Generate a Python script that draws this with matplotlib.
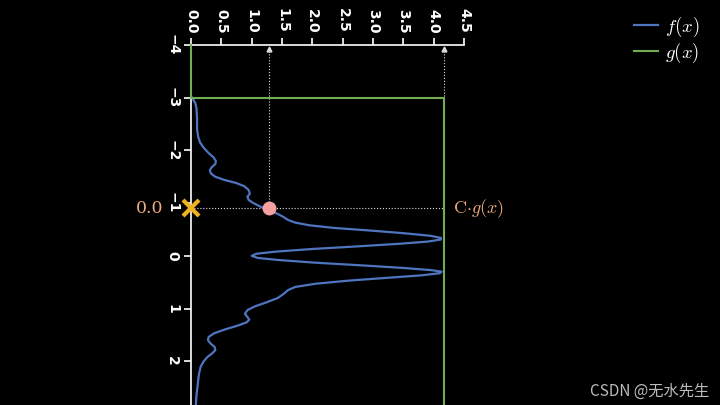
import matplotlib
matplotlib.use('Agg')
import matplotlib.pyplot as plt

# f(x): sample positions and density values
f_x = [-3.0, -2.9, -2.8, -2.6, -2.4, -2.25, -2.15, -2.05, -1.95, -1.87, -1.80,
       -1.74, -1.68, -1.62, -1.56, -1.50, -1.44, -1.38, -1.32, -1.25, -1.18,
       -1.12, -1.06, -1.00, -0.93, -0.87, -0.80, -0.74, -0.68, -0.63, -0.58,
       -0.53, -0.48, -0.43, -0.38, -0.34, -0.31, -0.27, -0.23, -0.18, -0.13,
       -0.08, -0.04, 0.0, 0.04, 0.08, 0.13, 0.18, 0.23, 0.27, 0.30, 0.33, 0.37,
       0.42, 0.47, 0.53, 0.59, 0.65, 0.72, 0.80, 0.88, 0.96, 1.03, 1.10, 1.16,
       1.21, 1.26, 1.32, 1.40, 1.47, 1.54, 1.60, 1.66, 1.73, 1.79, 1.85, 1.92,
       2.00, 2.10, 2.25, 2.45, 2.65, 2.83]
f_y = [0.02, 0.07, 0.09, 0.10, 0.10, 0.12, 0.15, 0.21, 0.29, 0.37, 0.41,
       0.40, 0.34, 0.31, 0.33, 0.40, 0.55, 0.75, 0.88, 0.95, 0.97,
       0.93, 0.95, 1.03, 1.15, 1.28, 1.42, 1.52, 1.60, 1.72, 1.95,
       2.35, 2.95, 3.50, 3.95, 4.12, 4.12, 3.90, 3.45, 2.75, 2.00,
       1.40, 1.08, 1.00, 1.10, 1.45, 2.05, 2.80, 3.50, 3.95, 4.13, 4.10, 3.80,
       3.20, 2.60, 2.05, 1.72, 1.60, 1.53, 1.43, 1.25, 1.05, 0.93, 0.89, 0.93,
       0.96, 0.92, 0.78, 0.55, 0.38, 0.29, 0.28, 0.32, 0.39, 0.40, 0.35, 0.27,
       0.21, 0.16, 0.13, 0.11, 0.09, 0.08]

# g(x): uniform proposal scaled by C
g_x = [-4.0, -3.0, -3.0, 2.83]
g_y = [0.0, 0.0, 4.17, 4.17]

sample_x = -0.9      # proposed sample
sample_u = 1.28      # f at the sample
cg_value = 4.17      # C*g at the sample

x_ticks = [-4, -3, -2, -1, 0, 1, 2]
d_ticks = [0.0, 0.5, 1.0, 1.5, 2.0, 2.5, 3.0, 3.5, 4.0, 4.5]

plt.rcParams['mathtext.fontset'] = 'cm'

fig = plt.figure(figsize=(7.2, 4.05), dpi=100, facecolor='black')
ax = fig.add_axes([191 / 720, 0.0, 273 / 720, 1 - 45 / 405])
ax.set_facecolor('black')

orange = '#eeaa7b'
blue = '#4f74c0'
green = '#72ad52'

ax.plot(f_y, f_x, color=blue, lw=1.6, label='$f(x)$', zorder=3)
ax.plot(g_y, g_x, color=green, lw=1.5, label='$g(x)$', zorder=3, clip_on=False)

# dotted guide lines
ax.plot([0, cg_value], [sample_x, sample_x], ls=':', color='#dddddd', lw=0.8, zorder=2)
for xv in [sample_u, cg_value]:
    ax.plot([xv, xv], [sample_x, -3.95], ls=':', color='#dddddd', lw=0.8, zorder=2)
    ax.plot([xv], [-3.93], marker='^', color='#dddddd', ms=3.5, zorder=2)

ax.plot([sample_u], [sample_x], 'o', color='#f4a0a0', ms=9, zorder=5)
ax.plot([0], [sample_x], 'x', color='#f2b21f', ms=11, mew=3, zorder=6, clip_on=False)

ax.text(-0.45, sample_x, '0.0', color=orange, fontsize=12.5, ha='right', va='center',
        family='DejaVu Serif')
ax.text(4.32, sample_x, r'$\mathrm{C}{\cdot}g(x)$', color=orange, fontsize=13,
        ha='left', va='center')

ax.set_xlim(0, 4.5)
ax.set_ylim(2.83, -4)
ax.xaxis.tick_top()
ax.set_xticks(d_ticks)
ax.set_xticklabels([f'{t:.1f}' for t in d_ticks], rotation=-90)
ax.set_yticks(x_ticks)
ax.set_yticklabels([f'{t}'.replace('-', '\u2212') for t in x_ticks], rotation=-90, va='center')
ax.tick_params(colors='white', labelsize=10, width=1.2, length=5)
for lab in ax.get_xticklabels() + ax.get_yticklabels():
    lab.set_fontweight('bold')
for side in ['right', 'bottom']:
    ax.spines[side].set_visible(False)
for side in ['left', 'top']:
    ax.spines[side].set_color('white')
    ax.spines[side].set_linewidth(1.2)

leg = fig.legend(loc='upper right', bbox_to_anchor=(0.995, 1.005), frameon=False,
                 fontsize=13.5, handlelength=1.25, handletextpad=0.4, labelspacing=0.1)
for t in leg.get_texts():
    t.set_color('white')

fig.text(0.985, 0.035, 'CSDN @无水先生', color='#bbbbbb', fontsize=11, ha='right',
         va='center', family=['Noto Sans CJK SC', 'DejaVu Sans'])

fig.savefig('out.png', dpi=100, facecolor='black')
